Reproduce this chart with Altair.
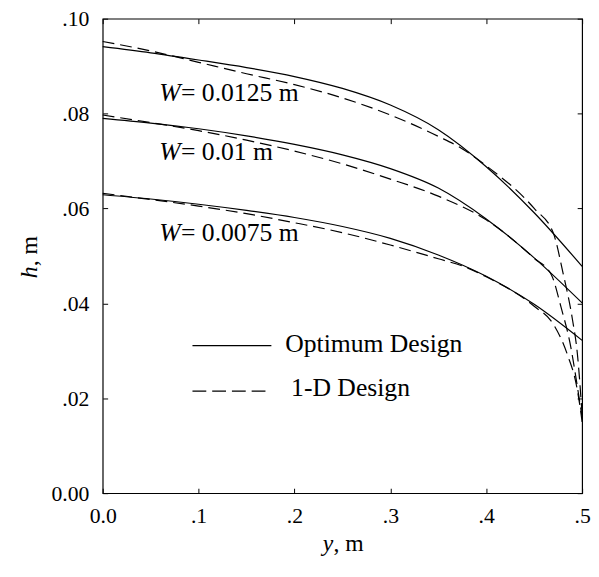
import altair as alt
import pandas as pd

# ---------------- data ----------------
# W = 0.0125 m
y_opt_125 = [0.0, 0.05, 0.1, 0.15, 0.2, 0.25, 0.3, 0.35, 0.4, 0.45, 0.5]
h_opt_125 = [0.0941, 0.0928, 0.0913, 0.0897, 0.0878, 0.0853, 0.0818, 0.0766, 0.0688, 0.0591, 0.0478]
y_1d_125 = [0.0, 0.05, 0.1, 0.15, 0.2, 0.25, 0.3, 0.35, 0.374, 0.4, 0.45, 0.47, 0.48, 0.49, 0.495, 0.5]
h_1d_125 = [0.0952, 0.0932, 0.0908, 0.0884, 0.0861, 0.0833, 0.0797, 0.0752, 0.0727, 0.0690, 0.0600, 0.0548, 0.0465, 0.0365, 0.0295, 0.0165]

# W = 0.01 m
y_opt_100 = [0.0, 0.05, 0.1, 0.15, 0.2, 0.25, 0.3, 0.35, 0.4, 0.45, 0.5]
h_opt_100 = [0.0790, 0.0780, 0.0768, 0.0753, 0.0735, 0.0713, 0.0684, 0.0643, 0.0578, 0.0496, 0.0401]
y_1d_100 = [0.0, 0.05, 0.1, 0.15, 0.2, 0.25, 0.3, 0.35, 0.4, 0.45, 0.468, 0.478, 0.488, 0.495, 0.5]
h_1d_100 = [0.0797, 0.0781, 0.0764, 0.0744, 0.0721, 0.0694, 0.0662, 0.0626, 0.0576, 0.0495, 0.0460, 0.0392, 0.0310, 0.0225, 0.0160]

# W = 0.0075 m
y_opt_075 = [0.0, 0.05, 0.1, 0.15, 0.2, 0.25, 0.3, 0.35, 0.4, 0.45, 0.5]
h_opt_075 = [0.0629, 0.0620, 0.0609, 0.0596, 0.0581, 0.0562, 0.0537, 0.0502, 0.0457, 0.0398, 0.0322]
y_1d_075 = [0.0, 0.05, 0.1, 0.15, 0.2, 0.25, 0.3, 0.35, 0.379, 0.4, 0.45, 0.47, 0.485, 0.494, 0.498, 0.5]
h_1d_075 = [0.0632, 0.0619, 0.0605, 0.0589, 0.0570, 0.0549, 0.0523, 0.0494, 0.0476, 0.0456, 0.0394, 0.0356, 0.0290, 0.0228, 0.0180, 0.0150]

# curve annotations
label_W = ["W", "W", "W"]
label_rest = ["= 0.0125 m", "= 0.01 m", "= 0.0075 m"]
label_y = [0.059, 0.059, 0.059]
label_h = [0.0826, 0.0702, 0.0532]

legend_labels = ["Optimum Design", "1-D Design"]

x_ticks = [0.0, 0.1, 0.2, 0.3, 0.4, 0.5]
x_tick_labels = ["0.0", ".1", ".2", ".3", ".4", ".5"]
y_ticks = [0.0, 0.02, 0.04, 0.06, 0.08, 0.10]
y_tick_labels = ["0.00", ".02", ".04", ".06", ".08", ".10"]

# ---------------- tables ----------------
def frame(ys, hs, w):
    return pd.DataFrame({"y": ys, "h": hs, "W": w})

df_opt = pd.concat([frame(y_opt_125, h_opt_125, "0.0125"),
                    frame(y_opt_100, h_opt_100, "0.01"),
                    frame(y_opt_075, h_opt_075, "0.0075")])
df_1d = pd.concat([frame(y_1d_125, h_1d_125, "0.0125"),
                   frame(y_1d_100, h_1d_100, "0.01"),
                   frame(y_1d_075, h_1d_075, "0.0075")])
df_lab = pd.DataFrame({"y": label_y, "h": label_h, "Wt": label_W, "rest": label_rest})

def label_expr(values, labels):
    expr = "''"
    for v, l in zip(reversed(values), reversed(labels)):
        expr = f"abs(datum.value - {v}) < 1e-9 ? '{l}' : ({expr})"
    return expr

FONT = "Liberation Serif"
PW, PH = 486, 481

xscale = alt.Scale(domain=[0, 0.5], nice=False, zero=False)
yscale = alt.Scale(domain=[0, 0.1], nice=False, zero=False)

axis_x_main = alt.Axis(orient="bottom", values=x_ticks, labelExpr=label_expr(x_ticks, x_tick_labels),
                       ticks=False, tickSize=0, domain=False, grid=False, title=None,
                       labelFont=FONT, labelFontSize=22, labelColor="black", labelPadding=13,
                       labelFlush=False, labelOverlap=False)
axis_y_main = alt.Axis(orient="left", values=y_ticks, labelExpr=label_expr(y_ticks, y_tick_labels),
                       ticks=False, tickSize=0, domain=False, grid=False, title=None,
                       labelFont=FONT, labelFontSize=22, labelColor="black", labelPadding=14,
                       labelOverlap=False)

def inner_axis(orient, offset, values):
    return alt.Axis(orient=orient, offset=offset, values=values, labels=False, ticks=True,
                    tickSize=5, tickColor="black", tickWidth=1, domain=False, grid=False, title=None)

solid = alt.Chart(df_opt).mark_line(color="black", strokeWidth=1.2, interpolate="monotone").encode(
    x=alt.X("y:Q", scale=xscale, axis=axis_x_main),
    y=alt.Y("h:Q", scale=yscale, axis=axis_y_main),
    detail="W:N",
)

dashed = alt.Chart(df_1d).mark_line(color="black", strokeWidth=1.2, strokeDash=[12, 6],
                                    interpolate="monotone").encode(
    x=alt.X("y:Q", scale=xscale, axis=inner_axis("top", -PH, x_ticks)),
    y=alt.Y("h:Q", scale=yscale, axis=inner_axis("right", -PW, y_ticks)),
    detail="W:N",
)

w_italic = alt.Chart(df_lab).mark_text(align="left", baseline="alphabetic", font=FONT, fontSize=26,
                                       fontStyle="italic", color="black").encode(
    x=alt.X("y:Q", scale=xscale, axis=inner_axis("bottom", -PH, x_ticks)),
    y=alt.Y("h:Q", scale=yscale, axis=inner_axis("left", -PW, y_ticks)),
    text="Wt:N",
)

w_rest = alt.Chart(df_lab).mark_text(align="left", baseline="alphabetic", font=FONT, fontSize=26,
                                     dx=22, color="black").encode(
    x=alt.X("y:Q", scale=xscale, axis=None),
    y=alt.Y("h:Q", scale=yscale, axis=None),
    text="rest:N",
)

one = pd.DataFrame({"k": [0]})

# legend
leg_solid = alt.Chart(one).mark_rule(color="black", strokeWidth=1.2).encode(
    x=alt.value(91), x2=alt.value(171), y=alt.value(331.5))
leg_dash = alt.Chart(one).mark_rule(color="black", strokeWidth=1.2, strokeDash=[14, 6]).encode(
    x=alt.value(91), x2=alt.value(168), y=alt.value(377.5))
leg_t1 = alt.Chart(one).mark_text(align="left", baseline="middle", font=FONT, fontSize=26,
                                  color="black").encode(
    x=alt.value(185), y=alt.value(330), text=alt.value(legend_labels[0]))
leg_t2 = alt.Chart(one).mark_text(align="left", baseline="middle", font=FONT, fontSize=26,
                                  color="black").encode(
    x=alt.value(191), y=alt.value(374), text=alt.value(legend_labels[1]))

# axis titles (italic variable + upright unit)
xt1 = alt.Chart(one).mark_text(align="left", baseline="alphabetic", font=FONT, fontSize=24,
                               fontStyle="italic", color="black").encode(
    x=alt.value(223), y=alt.value(540), text=alt.value("y"))
xt2 = alt.Chart(one).mark_text(align="left", baseline="alphabetic", font=FONT, fontSize=24,
                               color="black").encode(
    x=alt.value(234), y=alt.value(540), text=alt.value(", m"))
yt1 = alt.Chart(one).mark_text(align="left", baseline="alphabetic", font=FONT, fontSize=24,
                               fontStyle="italic", angle=270, color="black").encode(
    x=alt.value(-67), y=alt.value(263), text=alt.value("h"))
yt2 = alt.Chart(one).mark_text(align="left", baseline="alphabetic", font=FONT, fontSize=24,
                               angle=270, color="black").encode(
    x=alt.value(-67), y=alt.value(251), text=alt.value(", m"))

chart = alt.layer(
    solid, dashed, w_italic, w_rest, leg_solid, leg_dash, leg_t1, leg_t2, xt1, xt2, yt1, yt2
).resolve_axis(
    x="independent", y="independent"
).properties(
    width=PW, height=PH,
    autosize=alt.AutoSizeParams(type="none"),
    padding={"left": 96, "top": 7, "right": 9, "bottom": 71},
    background="white",
).configure_view(
    stroke="black", strokeWidth=1.2
)

chart.save("out.html", embed_options={"renderer": "svg", "actions": False})
